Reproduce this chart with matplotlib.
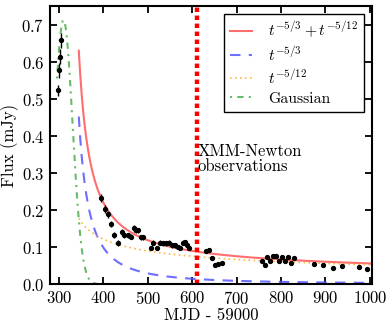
import numpy as np
import matplotlib
matplotlib.use("Agg")
import matplotlib.pyplot as plt

plt.rcParams['font.family'] = 'serif'
plt.rcParams['font.serif'] = ['cmr10', 'DejaVu Serif']
plt.rcParams['mathtext.fontset'] = 'cm'
plt.rcParams['axes.unicode_minus'] = False
plt.rcParams['axes.formatter.use_mathtext'] = True
plt.rcParams['font.size'] = 12

# --- dane ---
t_early = [299, 300.7, 303.6, 305.8]
f_early = [0.524, 0.578, 0.615, 0.659]
e_early = [0.015, 0.02, 0.02, 0.02]

t_late = [395.8, 404.8, 410, 417.6, 425, 433.3, 442.3, 447.5, 455.8, 461.9,
          468.6, 473, 478.3, 485.8, 490.3, 506.9, 512.7, 520.4, 527.8, 535.2,
          541.3, 548, 554, 561.5, 567.6, 573.4, 578.8, 584, 589.2, 593.7,
          630.5, 638, 644.7, 651.5, 658.2, 666.5,
          757.9, 763.9, 769.1, 775.2, 781.2, 787.9, 794.7, 802.1, 809.6, 815.6,
          823, 829.8, 874.8, 895, 916.1, 937.8, 974.6, 993.3]
f_late = [0.233, 0.203, 0.189, 0.163, 0.132, 0.111, 0.142, 0.132, 0.132, 0.128,
          0.151, 0.146, 0.145, 0.127, 0.127, 0.098, 0.112, 0.097, 0.112, 0.110,
          0.110, 0.112, 0.105, 0.105, 0.100, 0.097, 0.112, 0.114, 0.105, 0.098,
          0.090, 0.092, 0.070, 0.053, 0.055, 0.058,
          0.062, 0.053, 0.072, 0.062, 0.077, 0.076, 0.063, 0.073, 0.063, 0.072,
          0.057, 0.070, 0.054, 0.052, 0.043, 0.050, 0.045, 0.040]
e_late = [0.010, 0.010, 0.010, 0.009, 0.008, 0.008, 0.008, 0.007, 0.007, 0.007,
          0.010, 0.008, 0.008, 0.007, 0.007, 0.006, 0.006, 0.006, 0.006, 0.006,
          0.006, 0.006, 0.006, 0.006, 0.006, 0.006, 0.006, 0.006, 0.006, 0.006,
          0.005, 0.005, 0.005, 0.005, 0.005, 0.005,
          0.005, 0.005, 0.005, 0.005, 0.005, 0.005, 0.005, 0.005, 0.005, 0.005,
          0.005, 0.005, 0.005, 0.005, 0.005, 0.005, 0.005, 0.005]

# parametry modelu
t_peak = 308.0      # szczyt
t_start = 345.0     # poczatek dopasowania
A_53 = 0.453        # t^-5/3 w t_start
A_512 = 0.178       # t^-5/12 w t_start
g_amp, g_mu, g_sig = 0.714, 310.5, 20.5
t_xmm = 611.0

t = np.linspace(t_start, 1005, 600)
x = (t - t_peak) / (t_start - t_peak)
f53 = A_53 * x ** (-5 / 3)
f512 = A_512 * x ** (-5 / 12)

tg = np.linspace(296, 385, 300)
fg = g_amp * np.exp(-(tg - g_mu) ** 2 / (2 * g_sig ** 2))

fig = plt.figure(figsize=(3.9, 3.3), dpi=100)
ax = fig.add_axes([0.128, 0.139, 0.826, 0.843])

ax.plot(t, f53 + f512, color='#ff5555', lw=1.5, alpha=0.85,
        label=r'$t^{-5/3}+t^{-5/12}$')
ax.plot(t, f53, color='#5555ff', lw=1.5, ls=(0, (5, 4)), alpha=0.85,
        label=r'$t^{-5/3}$')
ax.plot(t, f512, color='#ffaa22', lw=1.2, ls=(0, (1, 2)), alpha=0.85,
        label=r'$t^{-5/12}$')
ax.plot(tg, fg, color='#44aa44', lw=1.5, ls=(0, (1, 2.5, 3, 2.5)), alpha=0.8,
        label='Gaussian')

ax.errorbar(t_early + t_late, f_early + f_late, yerr=e_early + e_late,
            fmt='o', color='black', ms=2.8, elinewidth=1, capsize=0)

ax.axvline(t_xmm, color='red', lw=3.2, ls=(0, (1, 0.8)))
ax.text(t_xmm + 2, 0.338, 'XMM-Newton\nobservations', ha='left', va='center',
        linespacing=1.0)

ax.set_xlim(280, 1005)
ax.set_ylim(0, 0.752)
ax.set_xticks(np.arange(300, 1001, 100))
ax.set_yticks(np.arange(0, 0.71, 0.1))
ax.set_xlabel('MJD - 59000', labelpad=1)
ax.set_ylabel('Flux (mJy)', labelpad=2)

for s in ax.spines.values():
    s.set_linewidth(1.5)
ax.tick_params(direction='in', top=True, right=True, length=5, width=1.3,
               pad=4)

leg = ax.legend(loc='upper right', fancybox=False, edgecolor='black',
                framealpha=1, handlelength=1.4, borderaxespad=0.5,
                labelspacing=0.3, fontsize=11.3, borderpad=0.4,
                handletextpad=1.0)
leg.get_frame().set_linewidth(1.0)

fig.savefig('out.png', dpi=100)
